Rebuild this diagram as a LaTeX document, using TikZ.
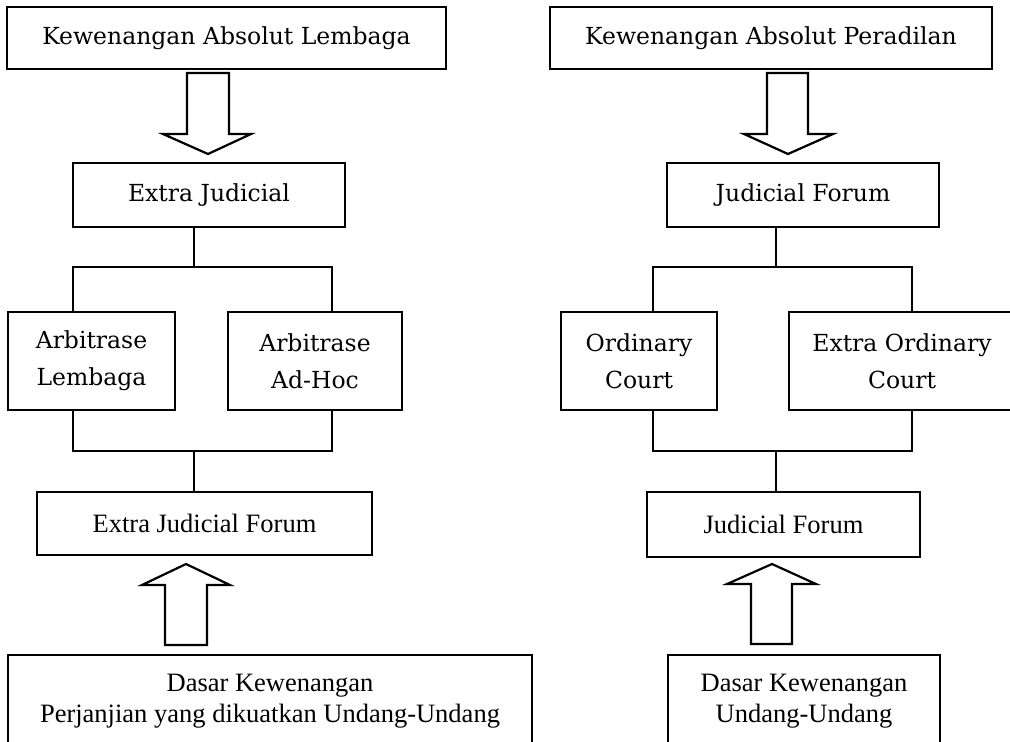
\documentclass[tikz,border=0pt]{standalone}
\usepackage{fontspec}
\setmainfont{Liberation Serif}
\newfontfamily\headfont{DejaVu Serif}
\begin{document}
\begin{tikzpicture}[x=1pt,y=-1pt,
  box/.style={draw, line width=2.2pt, rectangle, inner sep=0pt, align=center},
  upper/.style={font=\headfont\fontsize{23.5}{37}\selectfont},
  lower/.style={font=\fontsize{26.5}{31}\selectfont},
  blockarrow/.style={draw, line width=2.2pt, fill=white, line join=miter},
  conn/.style={draw, line width=2.2pt, line join=miter}]
\useasboundingbox (0,0) rectangle (1010,742);
\clip (0,0) rectangle (1010,742);

% ---------- left column: Kewenangan Absolut Lembaga ----------
\node[box, upper, minimum width=439, minimum height=62] (topL) at (226.5,38) {Kewenangan Absolut Lembaga};
\node[box, upper, minimum width=272, minimum height=64] (ejL) at (209,195) {Extra Judicial};
\node[box, upper, minimum width=167, minimum height=98] (arbL) at (91.5,361) {Arbitrase\\Lembaga};
\node[box, upper, minimum width=174, minimum height=98] (arbA) at (315,361) {Arbitrase\\Ad-Hoc};
\node[box, lower, minimum width=335, minimum height=63] (ejfL) at (204.5,523.5) {Extra Judicial Forum};
\node[box, minimum width=524, minimum height=130, anchor=north] (dasarL) at (270,654) {};
\node[lower, align=center, anchor=base] (dasarLtext) at ([yshift=-68]dasarL.north) {Dasar Kewenangan\\Perjanjian yang dikuatkan Undang-Undang};

% down arrow from the heading into Extra Judicial
\draw[blockarrow] (187,73) -- (187,134) -- (163,134) -- (208,154) -- (251,134) -- (229,134) -- (229,73) -- cycle;

% forks around the two arbitration boxes
\coordinate (forkTL) at (194,267);
\coordinate (forkBL) at (194,451);
\coordinate (dropL1) at (73,0);
\coordinate (dropL2) at (332,0);
\draw[conn] (ejL.south -| forkTL) -- (forkTL);
\draw[conn] (arbL.north -| dropL1) |- (forkTL) -| (arbA.north -| dropL2);
\draw[conn] (arbL.south -| dropL1) |- (forkBL) -| (arbA.south -| dropL2);
\draw[conn] (forkBL) -- (ejfL.north -| forkBL);

% up arrow from the basis into Extra Judicial Forum
\draw[blockarrow] (165,645) -- (165,585) -- (142,585) -- (186,564) -- (230,585) -- (207,585) -- (207,645) -- cycle;

% ---------- right column: Kewenangan Absolut Peradilan ----------
\node[box, upper, minimum width=442, minimum height=62] (topR) at (771,38) {Kewenangan Absolut Peradilan};
\node[box, upper, minimum width=272, minimum height=64] (jfR) at (803,195) {Judicial Forum};
\node[box, upper, minimum width=156, minimum height=98] (ordR) at (639,361) {Ordinary\\Court};
\node[box, upper, minimum width=226, minimum height=98] (eocR) at (902,361) {Extra Ordinary\\Court};
\node[box, lower, minimum width=273, minimum height=65] (jf2R) at (783.5,524.5) {Judicial Forum};
\node[box, minimum width=272, minimum height=130, anchor=north] (dasarR) at (804,654) {};
\node[lower, align=center, anchor=base] (dasarRtext) at ([yshift=-68]dasarR.north) {Dasar Kewenangan\\Undang-Undang};

% down arrow from the heading into Judicial Forum
\draw[blockarrow] (767,73) -- (767,134) -- (744,134) -- (788,154) -- (833,134) -- (808,134) -- (808,73) -- cycle;

% forks around the two court boxes
\coordinate (forkTR) at (776,267);
\coordinate (forkBR) at (776,451);
\coordinate (dropR1) at (653,0);
\coordinate (dropR2) at (912,0);
\draw[conn] (jfR.south -| forkTR) -- (forkTR);
\draw[conn] (ordR.north -| dropR1) |- (forkTR) -| (eocR.north -| dropR2);
\draw[conn] (ordR.south -| dropR1) |- (forkBR) -| (eocR.south -| dropR2);
\draw[conn] (forkBR) -- (jf2R.north -| forkBR);

% up arrow from the basis into the lower Judicial Forum
\draw[blockarrow] (751,644) -- (751,584) -- (727,584) -- (772,564) -- (816,584) -- (792,584) -- (792,644) -- cycle;
\end{tikzpicture}
\end{document}
